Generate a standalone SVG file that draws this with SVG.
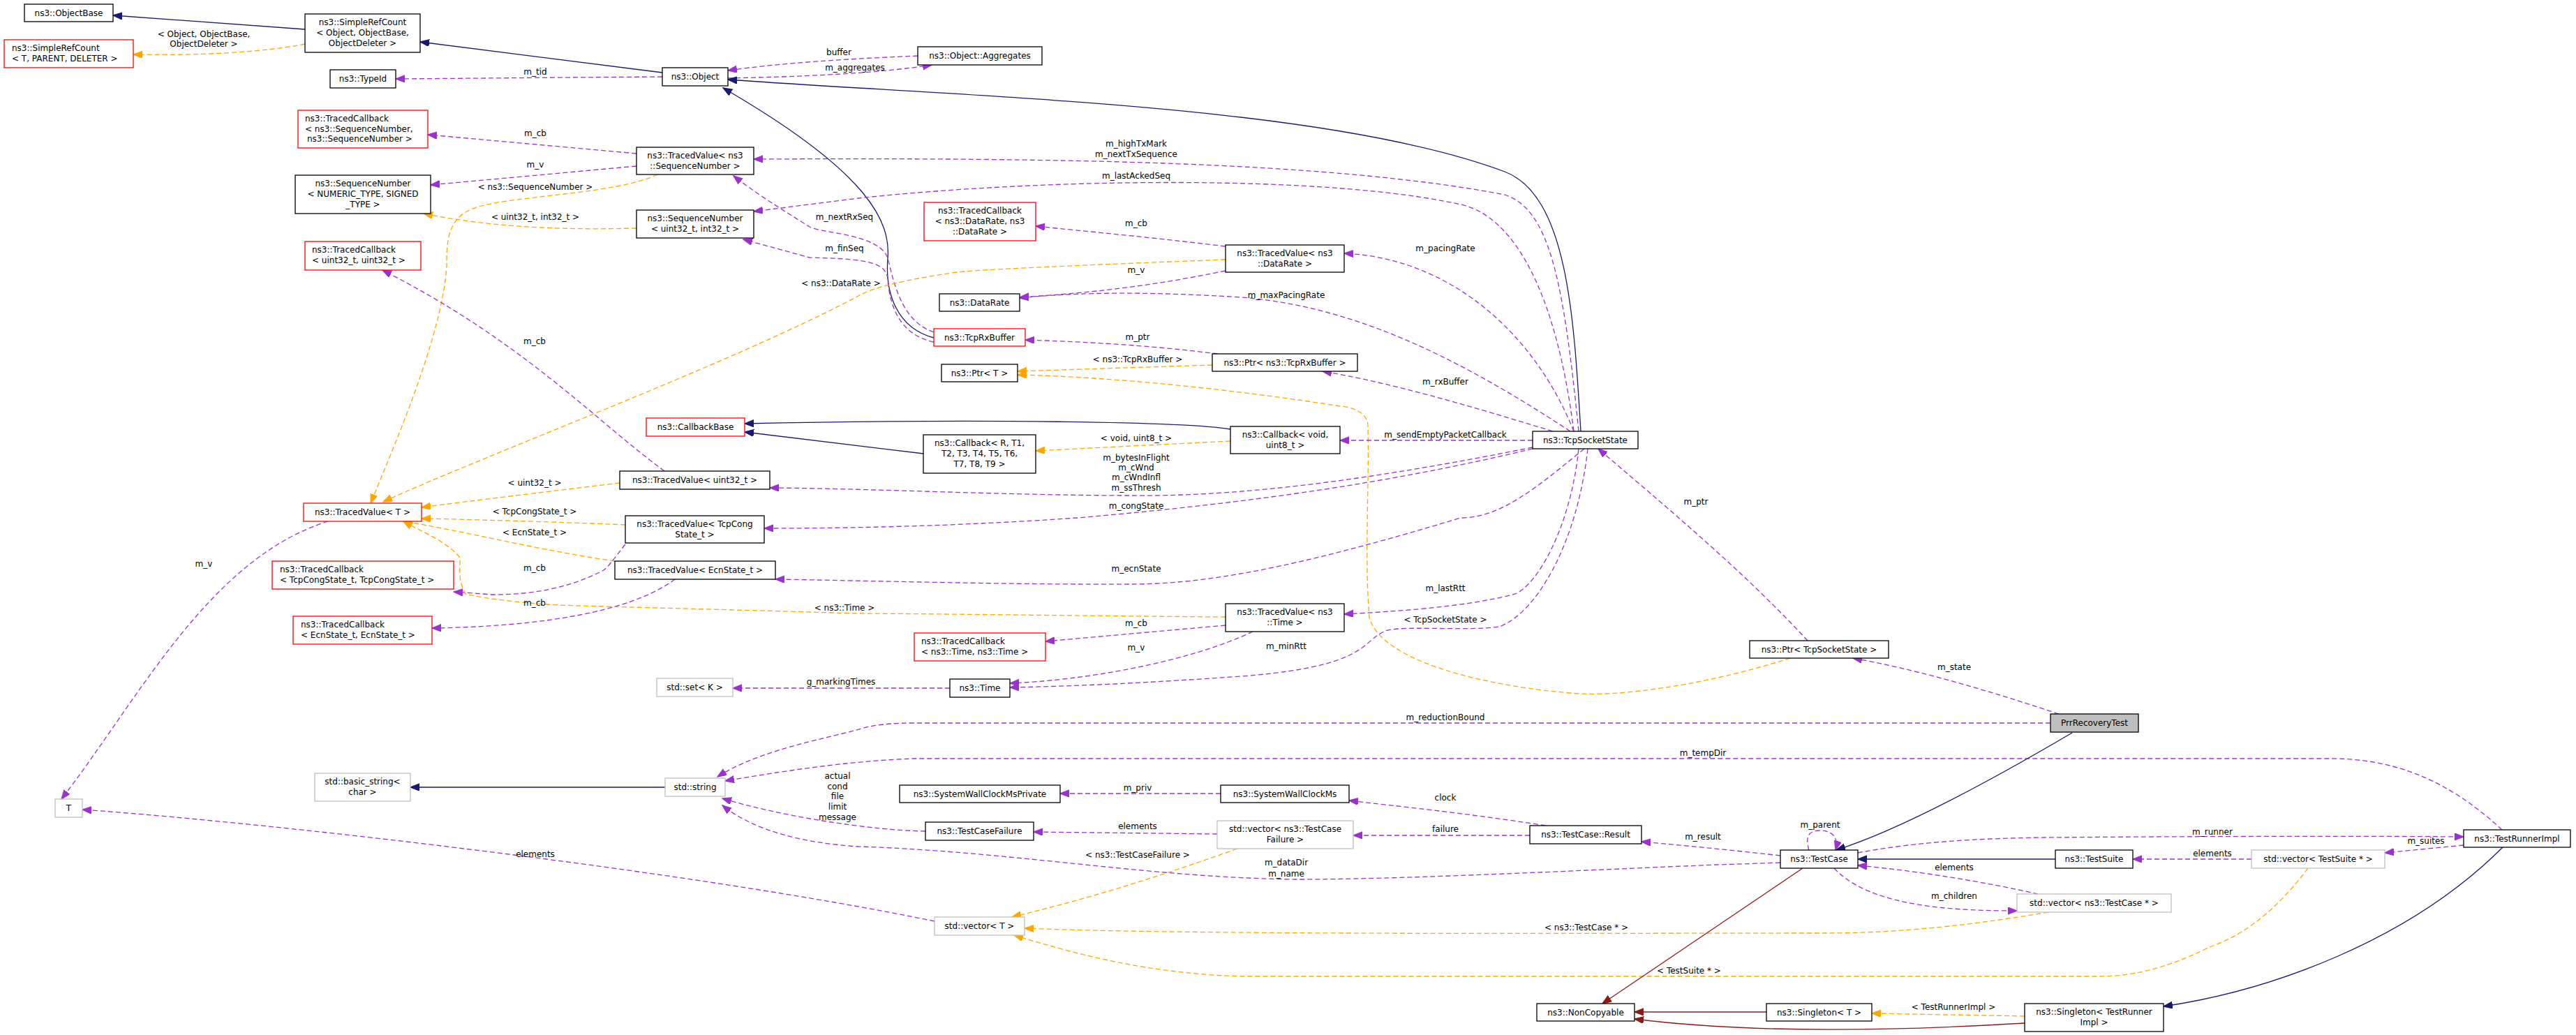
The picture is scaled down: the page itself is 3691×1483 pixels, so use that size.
<svg xmlns="http://www.w3.org/2000/svg" width="3691" height="1483" viewBox="0 0 3691 1483">
<style>
text{font-family:"DejaVu Sans","Liberation Sans",sans-serif;font-size:12px;fill:#000}
.nt{text-anchor:middle}
.l{text-anchor:middle}
rect{fill:#fff;stroke:#000;stroke-width:1.3}
rect.r{stroke:#ff0000}
rect.g{stroke:#bfbfbf}
rect.s{fill:#bfbfbf}
path{fill:none;stroke-width:1.3}
.i{stroke:#191970}
.u{stroke:#9a32cd;stroke-dasharray:7,4}
.t{stroke:#ffa500;stroke-dasharray:7,4}
.p{stroke:#8b1a1a}
.i{marker-end:url(#ai)}
.u{marker-end:url(#au)}
.t{marker-end:url(#at)}
.p{marker-end:url(#ap)}
.mi{fill:#191970;stroke:#191970}
.mu{fill:#9a32cd;stroke:#9a32cd}
.mt{fill:#ffa500;stroke:#ffa500}
.mp{fill:#8b1a1a;stroke:#8b1a1a}
</style>
<defs>
<marker id="ai" markerUnits="userSpaceOnUse" markerWidth="14" markerHeight="12" refX="13" refY="5" orient="auto"><path class="mi" d="M0,0L13,5L0,10z"/></marker>
<marker id="au" markerUnits="userSpaceOnUse" markerWidth="14" markerHeight="12" refX="13" refY="5" orient="auto"><path class="mu" d="M0,0L13,5L0,10z"/></marker>
<marker id="at" markerUnits="userSpaceOnUse" markerWidth="14" markerHeight="12" refX="13" refY="5" orient="auto"><path class="mt" d="M0,0L13,5L0,10z"/></marker>
<marker id="ap" markerUnits="userSpaceOnUse" markerWidth="14" markerHeight="12" refX="13" refY="5" orient="auto"><path class="mp" d="M0,0L13,5L0,10z"/></marker>
</defs>
<rect x="0" y="0" width="3691" height="1483" style="fill:#fff;stroke:none"/>
<g id="edges">
<path class="i" d="M437,42 L162,22"/>
<path class="t" d="M437,63 C380,75 280,80 191,78"/>
<path class="i" d="M949,104 L602,60"/>
<path class="u" d="M949,110 L567,113"/>
<path class="u" d="M1315,80 C1220,84 1120,90 1043,101"/>
<path class="u" d="M1043,112 C1150,110 1260,105 1335,93"/>
<path class="i" d="M1338,484 C1285,470 1268,420 1272,370 C1276,320 1250,250 1036,126"/>
<path class="i" d="M2265,618 C2255,450 2245,280 2156,246 C1900,150 1400,140 1043,114"/>
<path class="u" d="M912,220 L613,193"/>
<path class="u" d="M912,238 L617,265"/>
<path class="t" d="M942,250 C880,280 720,280 675,300 C640,315 640,350 640,380 C635,480 560,650 531,721"/>
<path class="t" d="M912,327 C800,330 700,325 607,306"/>
<path class="u" d="M2262,618 C2240,400 2220,300 2156,279 C1900,230 1500,226 1080,228"/>
<path class="u" d="M1338,476 C1290,460 1280,400 1272,370 C1260,335 1180,335 1160,325 C1120,300 1080,275 1051,252"/>
<path class="u" d="M2255,618 C2230,420 2170,310 2093,293 C1900,250 1500,255 1230,284 L1080,303"/>
<path class="u" d="M1338,490 C1290,480 1275,440 1272,400 C1270,375 1240,371 1160,369 L1065,343"/>
<path class="t" d="M1756,372 C1600,378 1420,385 1371,390 C1300,400 1250,412 1230,424 C1050,520 700,650 549,719"/>
<path class="u" d="M1756,353 C1650,340 1560,332 1484,324"/>
<path class="u" d="M1756,388 C1650,410 1560,420 1461,426"/>
<path class="u" d="M2255,618 C2200,480 2080,370 1926,363"/>
<path class="u" d="M2250,618 C2100,520 1950,440 1779,426 C1650,418 1550,418 1461,427"/>
<path class="u" d="M1745,507 C1650,495 1560,490 1469,487"/>
<path class="t" d="M1737,523 L1458,532"/>
<path class="t" d="M2565,943 C2450,980 2320,1000 2250,993 C2100,980 1975,940 1962,884 C1955,800 1962,700 1960,610 C1960,590 1935,583 1920,582 C1780,560 1600,540 1458,537"/>
<path class="u" d="M2225,618 C2100,580 2000,550 1895,532"/>
<path class="i" d="M1763,615 C1700,604 1400,600 1067,607"/>
<path class="i" d="M1323,650 L1067,619"/>
<path class="t" d="M1763,632 L1484,646"/>
<path class="u" d="M2196,631 L1920,631"/>
<path class="u" d="M2196,641 C2000,680 1800,712 1622,710 C1450,710 1250,700 1103,699"/>
<path class="t" d="M888,692 C780,705 680,717 604,727"/>
<path class="u" d="M952,675 C850,600 750,490 548,387"/>
<path class="u" d="M2196,643 C2000,690 1800,720 1544,742 C1400,752 1250,757 1095,757"/>
<path class="t" d="M896,752 C800,748 700,745 604,743"/>
<path class="u" d="M896,780 C880,800 870,815 863,818 C820,840 770,852 706,852 L650,848"/>
<path class="t" d="M881,804 C780,790 660,760 578,747"/>
<path class="u" d="M967,830 C900,880 760,898 619,900"/>
<path class="u" d="M2270,643 C2200,700 2150,742 2093,742 C1900,800 1750,837 1622,837 C1450,838 1250,832 1111,830"/>
<path class="t" d="M1756,884 C1600,883 1400,880 1230,879 C1000,872 800,868 784,866 C700,860 667,851 667,851 C655,830 660,810 659,799 C640,775 600,760 578,747"/>
<path class="u" d="M1756,896 L1498,919"/>
<path class="u" d="M1795,905 C1700,950 1550,975 1447,979"/>
<path class="u" d="M2262,643 C2250,760 2200,840 2171,851 C2100,870 2000,876 1926,880"/>
<path class="u" d="M2275,643 C2260,780 2200,880 2148,898 C2100,905 2000,895 1983,905 C1950,920 1960,955 1779,969 C1650,978 1550,983 1447,985"/>
<path class="u" d="M1361,986 L1050,986"/>
<path class="u" d="M470,747 C300,800 200,1000 88,1145"/>
<path class="u" d="M1339,1320 C1000,1250 400,1180 118,1160"/>
<path class="i" d="M953,1128 L588,1128"/>
<path class="u" d="M2938,1036 L1308,1036 C1260,1036 1240,1042 1224,1047 C1150,1065 1080,1080 1028,1113"/>
<path class="u" d="M3585,1189 C3500,1110 3420,1087 3339,1087 L1308,1087 C1230,1090 1150,1100 1039,1119"/>
<path class="u" d="M1326,1191 C1250,1190 1120,1170 1035,1144"/>
<path class="u" d="M2551,1236 C2500,1238 2460,1239 2460,1239 C2200,1250 2000,1260 1858,1260 C1650,1258 1450,1220 1230,1213 C1150,1208 1080,1190 1035,1154"/>
<path class="u" d="M1749,1137 L1519,1137"/>
<path class="u" d="M2215,1183 C2100,1165 2000,1155 1933,1147"/>
<path class="u" d="M1744,1195 L1481,1192"/>
<path class="u" d="M2192,1197 L1939,1197"/>
<path class="t" d="M1773,1216 C1650,1260 1550,1290 1450,1314"/>
<path class="u" d="M2551,1226 C2480,1218 2420,1212 2352,1206"/>
<path class="t" d="M2935,1307 C2800,1330 2700,1337 2617,1337 C2300,1337 1700,1340 1468,1330"/>
<path class="t" d="M3307,1244 C3250,1320 3200,1345 3166,1357 C3100,1390 3050,1399 3009,1399 L1779,1399 C1650,1395 1550,1370 1453,1340"/>
<path class="p" d="M2583,1244 L2296,1438"/>
<path class="p" d="M2531,1450 L2342,1450"/>
<path class="p" d="M2901,1466 C2700,1478 2500,1480 2342,1460"/>
<path class="t" d="M2901,1456 L2682,1452"/>
<path class="i" d="M3586,1214 C3450,1350 3250,1420 3100,1442"/>
<path class="i" d="M2969,1050 C2850,1120 2720,1190 2631,1218"/>
<path class="u" d="M2592,1218 C2585,1195 2595,1190 2608,1190 C2625,1190 2635,1200 2630,1218"/>
<path class="u" d="M2662,1222 C2750,1205 2850,1201 2931,1200 C3200,1198 3400,1198 3530,1199"/>
<path class="u" d="M3530,1211 L3417,1222"/>
<path class="u" d="M3226,1231 L3056,1231"/>
<path class="i" d="M2945,1231 L2662,1231"/>
<path class="u" d="M2920,1281 C2850,1265 2750,1248 2662,1240"/>
<path class="u" d="M2628,1244 C2680,1300 2800,1305 2890,1305"/>
<path class="u" d="M2950,1023 C2850,990 2750,960 2655,943"/>
<path class="u" d="M2590,918 C2500,820 2380,720 2290,643"/>
</g>
<g id="edge-labels">
<text class="l" x="292" y="53">&lt; Object, ObjectBase,</text>
<text class="l" x="292" y="67">ObjectDeleter &gt;</text>
<text class="l" x="767" y="107">m_tid</text>
<text class="l" x="1202" y="79">buffer</text>
<text class="l" x="1225" y="101">m_aggregates</text>
<text class="l" x="767" y="195">m_cb</text>
<text class="l" x="767" y="240">m_v</text>
<text class="l" x="767" y="272">&lt; ns3::SequenceNumber &gt;</text>
<text class="l" x="767" y="315">&lt; uint32_t, int32_t &gt;</text>
<text class="l" x="1628" y="210">m_highTxMark</text>
<text class="l" x="1628" y="225">m_nextTxSequence</text>
<text class="l" x="1628" y="256">m_lastAckedSeq</text>
<text class="l" x="1210" y="315">m_nextRxSeq</text>
<text class="l" x="1210" y="360">m_finSeq</text>
<text class="l" x="1205" y="410">&lt; ns3::DataRate &gt;</text>
<text class="l" x="1628" y="324">m_cb</text>
<text class="l" x="1628" y="391">m_v</text>
<text class="l" x="2071" y="360">m_pacingRate</text>
<text class="l" x="1843" y="427">m_maxPacingRate</text>
<text class="l" x="1630" y="487">m_ptr</text>
<text class="l" x="1630" y="519">&lt; ns3::TcpRxBuffer &gt;</text>
<text class="l" x="2071" y="551">m_rxBuffer</text>
<text class="l" x="1628" y="632">&lt; void, uint8_t &gt;</text>
<text class="l" x="2071" y="627">m_sendEmptyPacketCallback</text>
<text class="l" x="1628" y="660">m_bytesInFlight</text>
<text class="l" x="1628" y="674">m_cWnd</text>
<text class="l" x="1628" y="688">m_cWndInfl</text>
<text class="l" x="1628" y="703">m_ssThresh</text>
<text class="l" x="766" y="696">&lt; uint32_t &gt;</text>
<text class="l" x="766" y="493">m_cb</text>
<text class="l" x="1628" y="729">m_congState</text>
<text class="l" x="766" y="737">&lt; TcpCongState_t &gt;</text>
<text class="l" x="766" y="818">m_cb</text>
<text class="l" x="766" y="767">&lt; EcnState_t &gt;</text>
<text class="l" x="766" y="868">m_cb</text>
<text class="l" x="1628" y="819">m_ecnState</text>
<text class="l" x="1210" y="875">&lt; ns3::Time &gt;</text>
<text class="l" x="1628" y="897">m_cb</text>
<text class="l" x="1628" y="932">m_v</text>
<text class="l" x="2071" y="847">m_lastRtt</text>
<text class="l" x="2071" y="892">&lt; TcpSocketState &gt;</text>
<text class="l" x="1843" y="930">m_minRtt</text>
<text class="l" x="1205" y="981">g_markingTimes</text>
<text class="l" x="292" y="812">m_v</text>
<text class="l" x="767" y="1228">elements</text>
<text class="l" x="2071" y="1032">m_reductionBound</text>
<text class="l" x="2440" y="1083">m_tempDir</text>
<text class="l" x="1200" y="1116">actual</text>
<text class="l" x="1200" y="1131">cond</text>
<text class="l" x="1200" y="1145">file</text>
<text class="l" x="1200" y="1160">limit</text>
<text class="l" x="1200" y="1175">message</text>
<text class="l" x="1843" y="1240">m_dataDir</text>
<text class="l" x="1843" y="1256">m_name</text>
<text class="l" x="1630" y="1133">m_priv</text>
<text class="l" x="2071" y="1147">clock</text>
<text class="l" x="1630" y="1188">elements</text>
<text class="l" x="2071" y="1192">failure</text>
<text class="l" x="1630" y="1229">&lt; ns3::TestCaseFailure &gt;</text>
<text class="l" x="2440" y="1203">m_result</text>
<text class="l" x="2273" y="1333">&lt; ns3::TestCase * &gt;</text>
<text class="l" x="2420" y="1395">&lt; TestSuite * &gt;</text>
<text class="l" x="2799" y="1447">&lt; TestRunnerImpl &gt;</text>
<text class="l" x="2608" y="1186">m_parent</text>
<text class="l" x="3170" y="1196">m_runner</text>
<text class="l" x="3476" y="1209">m_suites</text>
<text class="l" x="3170" y="1227">elements</text>
<text class="l" x="2800" y="1247">elements</text>
<text class="l" x="2800" y="1288">m_children</text>
<text class="l" x="2800" y="960">m_state</text>
<text class="l" x="2430" y="723">m_ptr</text>
</g>
<g id="ObjectBase"><rect x="35" y="6" width="127" height="25"/><text class="nt" x="98.5" y="23">ns3::ObjectBase</text></g>
<g id="SimpleRefCountObject"><rect x="437" y="20" width="165" height="55"/><text class="nt" x="519.5" y="36">ns3::SimpleRefCount</text><text class="nt" x="519.5" y="51">&lt; Object, ObjectBase,</text><text class="nt" x="519.5" y="66">ObjectDeleter &gt;</text></g>
<g id="SimpleRefCountT"><rect class="r" x="6" y="57" width="185" height="40"/><text x="17" y="73">ns3::SimpleRefCount</text><text x="17" y="88">&lt; T, PARENT, DELETER &gt;</text></g>
<g id="TypeId"><rect x="473" y="100" width="94" height="26"/><text class="nt" x="520" y="117">ns3::TypeId</text></g>
<g id="Object"><rect x="949" y="97" width="94" height="26"/><text class="nt" x="996" y="114">ns3::Object</text></g>
<g id="Aggregates"><rect x="1315" y="67" width="178" height="26"/><text class="nt" x="1404" y="84">ns3::Object::Aggregates</text></g>
<g id="TracedCallbackSeq"><rect class="r" x="427" y="158" width="186" height="54"/><text x="437" y="174">ns3::TracedCallback</text><text x="437" y="189">&lt; ns3::SequenceNumber,</text><text x="440" y="203">ns3::SequenceNumber &gt;</text></g>
<g id="TracedValueSeq"><rect x="912" y="211" width="168" height="39"/><text class="nt" x="996" y="227">ns3::TracedValue&lt; ns3</text><text class="nt" x="996" y="242">::SequenceNumber &gt;</text></g>
<g id="SequenceNumberGeneric"><rect x="423" y="251" width="194" height="55"/><text class="nt" x="520" y="267">ns3::SequenceNumber</text><text class="nt" x="520" y="282">&lt; NUMERIC_TYPE, SIGNED</text><text class="nt" x="520" y="297">_TYPE &gt;</text></g>
<g id="SequenceNumberU32"><rect x="912" y="301" width="168" height="40"/><text class="nt" x="996" y="317">ns3::SequenceNumber</text><text class="nt" x="996" y="332">&lt; uint32_t, int32_t &gt;</text></g>
<g id="TracedCallbackU32"><rect class="r" x="437" y="346" width="166" height="41"/><text x="447" y="362">ns3::TracedCallback</text><text x="447" y="377">&lt; uint32_t, uint32_t &gt;</text></g>
<g id="TracedCallbackDataRate"><rect class="r" x="1324" y="290" width="160" height="55"/><text class="nt" x="1404" y="306">ns3::TracedCallback</text><text class="nt" x="1404" y="321">&lt; ns3::DataRate, ns3</text><text class="nt" x="1404" y="336">::DataRate &gt;</text></g>
<g id="TracedValueDataRate"><rect x="1756" y="351" width="170" height="39"/><text class="nt" x="1841" y="367">ns3::TracedValue&lt; ns3</text><text class="nt" x="1841" y="382">::DataRate &gt;</text></g>
<g id="DataRate"><rect x="1346" y="421" width="115" height="25"/><text class="nt" x="1403.5" y="438">ns3::DataRate</text></g>
<g id="TcpRxBuffer"><rect class="r" x="1338" y="471" width="131" height="25"/><text class="nt" x="1403.5" y="488">ns3::TcpRxBuffer</text></g>
<g id="PtrTcpRxBuffer"><rect x="1737" y="507" width="208" height="25"/><text class="nt" x="1841" y="524">ns3::Ptr&lt; ns3::TcpRxBuffer &gt;</text></g>
<g id="PtrT"><rect x="1349" y="522" width="109" height="25"/><text class="nt" x="1403.5" y="539">ns3::Ptr&lt; T &gt;</text></g>
<g id="CallbackBase"><rect class="r" x="926" y="599" width="141" height="26"/><text class="nt" x="996.5" y="616">ns3::CallbackBase</text></g>
<g id="CallbackR"><rect x="1323" y="623" width="161" height="55"/><text class="nt" x="1403.5" y="639">ns3::Callback&lt; R, T1,</text><text class="nt" x="1403.5" y="654">T2, T3, T4, T5, T6,</text><text class="nt" x="1403.5" y="669">T7, T8, T9 &gt;</text></g>
<g id="CallbackVoid"><rect x="1763" y="611" width="157" height="39"/><text class="nt" x="1841.5" y="627">ns3::Callback&lt; void,</text><text class="nt" x="1841.5" y="642">uint8_t &gt;</text></g>
<g id="TcpSocketState"><rect x="2196" y="618" width="151" height="25"/><text class="nt" x="2271.5" y="635">ns3::TcpSocketState</text></g>
<g id="TracedValueU32"><rect x="888" y="675" width="215" height="26"/><text class="nt" x="995.5" y="692">ns3::TracedValue&lt; uint32_t &gt;</text></g>
<g id="TracedValueT"><rect class="r" x="435" y="721" width="169" height="26"/><text class="nt" x="519.5" y="738">ns3::TracedValue&lt; T &gt;</text></g>
<g id="TracedValueCongState"><rect x="896" y="739" width="199" height="39"/><text class="nt" x="995.5" y="755">ns3::TracedValue&lt; TcpCong</text><text class="nt" x="995.5" y="770">State_t &gt;</text></g>
<g id="TracedCallbackCongState"><rect class="r" x="390" y="804" width="260" height="40"/><text x="401" y="820">ns3::TracedCallback</text><text x="401" y="835">&lt; TcpCongState_t, TcpCongState_t &gt;</text></g>
<g id="TracedValueEcnState"><rect x="881" y="804" width="230" height="26"/><text class="nt" x="996" y="821">ns3::TracedValue&lt; EcnState_t &gt;</text></g>
<g id="TracedCallbackEcnState"><rect class="r" x="420" y="883" width="199" height="40"/><text x="431" y="899">ns3::TracedCallback</text><text x="431" y="914">&lt; EcnState_t, EcnState_t &gt;</text></g>
<g id="SetK"><rect class="g" x="941" y="972" width="109" height="26"/><text class="nt" x="995.5" y="989">std::set&lt; K &gt;</text></g>
<g id="T"><rect class="g" x="79" y="1145" width="39" height="26"/><text class="nt" x="98.5" y="1162">T</text></g>
<g id="BasicString"><rect class="g" x="451" y="1108" width="137" height="40"/><text class="nt" x="519.5" y="1124">std::basic_string&lt;</text><text class="nt" x="519.5" y="1139">char &gt;</text></g>
<g id="String"><rect class="g" x="953" y="1115" width="86" height="26"/><text class="nt" x="996" y="1132">std::string</text></g>
<g id="TracedValueTime"><rect x="1756" y="865" width="170" height="40"/><text class="nt" x="1841" y="881">ns3::TracedValue&lt; ns3</text><text class="nt" x="1841" y="896">::Time &gt;</text></g>
<g id="TracedCallbackTime"><rect class="r" x="1310" y="907" width="188" height="40"/><text x="1320" y="923">ns3::TracedCallback</text><text x="1320" y="938">&lt; ns3::Time, ns3::Time &gt;</text></g>
<g id="Time"><rect x="1361" y="973" width="86" height="26"/><text class="nt" x="1404" y="990">ns3::Time</text></g>
<g id="SystemWallClockMsPrivate"><rect x="1289" y="1125" width="230" height="25"/><text class="nt" x="1404" y="1142">ns3::SystemWallClockMsPrivate</text></g>
<g id="SystemWallClockMs"><rect x="1749" y="1125" width="184" height="25"/><text class="nt" x="1841" y="1142">ns3::SystemWallClockMs</text></g>
<g id="TestCaseFailure"><rect x="1326" y="1178" width="155" height="26"/><text class="nt" x="1403.5" y="1195">ns3::TestCaseFailure</text></g>
<g id="VectorTestCaseFailure"><rect class="g" x="1744" y="1176" width="195" height="40"/><text class="nt" x="1841.5" y="1192">std::vector&lt; ns3::TestCase</text><text class="nt" x="1841.5" y="1207">Failure &gt;</text></g>
<g id="TestCaseResult"><rect x="2192" y="1183" width="160" height="26"/><text class="nt" x="2272" y="1200">ns3::TestCase::Result</text></g>
<g id="VectorT"><rect class="g" x="1339" y="1314" width="129" height="26"/><text class="nt" x="1403.5" y="1331">std::vector&lt; T &gt;</text></g>
<g id="NonCopyable"><rect x="2202" y="1438" width="140" height="25"/><text class="nt" x="2272" y="1455">ns3::NonCopyable</text></g>
<g id="PtrTcpSocketState"><rect x="2507" y="918" width="199" height="25"/><text class="nt" x="2606.5" y="935">ns3::Ptr&lt; TcpSocketState &gt;</text></g>
<g id="PrrRecoveryTest"><rect class="s" x="2938" y="1023" width="126" height="26"/><text class="nt" x="3001" y="1040">PrrRecoveryTest</text></g>
<g id="TestCase"><rect x="2551" y="1218" width="111" height="26"/><text class="nt" x="2606.5" y="1235">ns3::TestCase</text></g>
<g id="TestSuite"><rect x="2945" y="1218" width="111" height="26"/><text class="nt" x="3000.5" y="1235">ns3::TestSuite</text></g>
<g id="VectorTestSuite"><rect class="g" x="3226" y="1218" width="191" height="26"/><text class="nt" x="3321.5" y="1235">std::vector&lt; TestSuite * &gt;</text></g>
<g id="TestRunnerImpl"><rect x="3530" y="1189" width="153" height="25"/><text class="nt" x="3606.5" y="1206">ns3::TestRunnerImpl</text></g>
<g id="VectorTestCase"><rect class="g" x="2890" y="1281" width="221" height="26"/><text class="nt" x="3000.5" y="1298">std::vector&lt; ns3::TestCase * &gt;</text></g>
<g id="SingletonT"><rect x="2531" y="1438" width="151" height="25"/><text class="nt" x="2606.5" y="1455">ns3::Singleton&lt; T &gt;</text></g>
<g id="SingletonTestRunnerImpl"><rect x="2901" y="1438" width="199" height="40"/><text class="nt" x="3000.5" y="1454">ns3::Singleton&lt; TestRunner</text><text class="nt" x="3000.5" y="1469">Impl &gt;</text></g>
</svg>
